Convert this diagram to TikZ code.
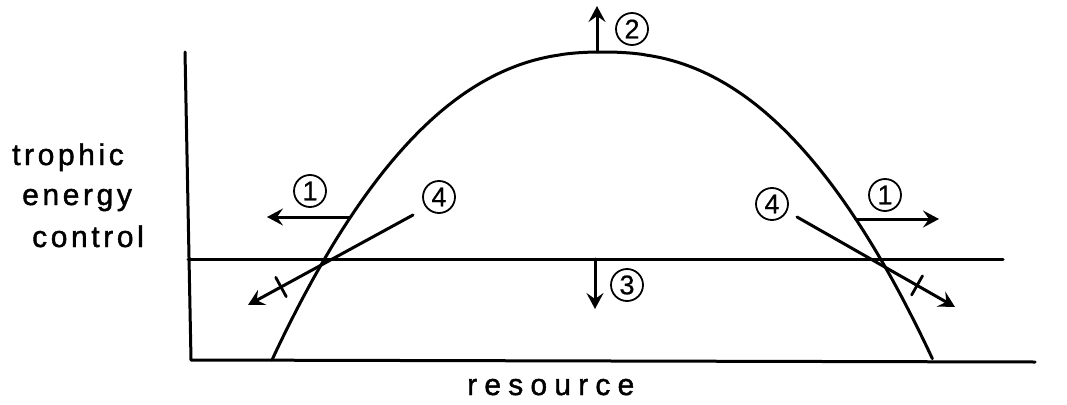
\documentclass[tikz,border=0pt]{standalone}
\usepackage{fontspec}
\setmainfont{Liberation Sans}
\newfontfamily\lab[LetterSpace=12,FakeBold=1.4]{Liberation Sans}
\newfontfamily\labwide[LetterSpace=24,FakeBold=1.4]{Liberation Sans}
\newfontfamily\digfont[FakeBold=0.6]{Liberation Sans}
\usetikzlibrary{arrows.meta}
\tikzset{
  ink/.style={line width=3pt, line cap=round, line join=round},
  arr/.style={ink, -{Stealth[length=16pt,width=17pt,inset=6pt]}},
  circnum/.style={circle, draw, line width=1.8pt, minimum size=32pt, inner sep=0pt,
    font=\fontsize{27}{27}\selectfont\digfont},
  lbl/.style={anchor=base west, inner sep=0pt, font=\fontsize{30}{36}\selectfont\lab},
  tick/.style={sloped, draw, line width=2.8pt, minimum width=0pt, minimum height=22pt, inner sep=0pt, rectangle}
}
\begin{document}
\begin{tikzpicture}[x=1pt, y=-1pt]
\useasboundingbox (0,0) rectangle (1067,404);
% axes
\coordinate (ytop) at (185,52);
\coordinate (orig) at (191,360);
\coordinate (xend) at (1035,362);
\draw[ink] (ytop) -- (orig) -- (xend);
% horizontal level line
\coordinate (hl) at (188,259);
\coordinate (hr) at (1003,259);
\draw[ink] (hl) -- (hr);
% hump curve
\draw[ink, domain=-1:1, samples=151, variable=\u]
  plot ({602.5+330.5*\u}, {360-308*(1-pow(max(abs(\u),0.0001),2.3))});
% labels
\node[lbl] (t1) at (12,165) {trophic};
\node[lbl] (t2) at (22,205) {energy};
\node[lbl] (t3) at (32,247) {control};
\node[lbl, font=\fontsize{30}{36}\selectfont\labwide] (res) at (467,395) {resource};
% circled numbers
\node[circnum] (n1l) at (310,191) {1};
\node[circnum] (n1r) at (885,195) {1};
\node[circnum] (n2) at (632,29) {2};
\node[circnum] (n3) at (627,285) {3};
\node[circnum] (n4l) at (439,197) {4};
\node[circnum] (n4r) at (772,204) {4};
% arrows 1
\coordinate (c1l) at (349.5,217);
\coordinate (e1l) at (267,217);
\draw[arr] (c1l) -- (e1l);
\coordinate (c1r) at (855.5,219);
\coordinate (e1r) at (939,219);
\draw[arr] (c1r) -- (e1r);
% arrow 2
\coordinate (c2) at (597,52);
\coordinate (e2) at (597,6);
\draw[arr] (c2) -- (e2);
% arrow 3
\coordinate (c3) at (595,259);
\coordinate (e3) at (595,309);
\draw[arr] (c3) -- (e3);
% arrows 4
\coordinate (s4l) at (413,215);
\coordinate (e4l) at (248,305);
\draw[arr] (s4l) -- (e4l) node[tick, pos=0.8] (k4l) {};
\coordinate (s4r) at (797,217);
\coordinate (e4r) at (955,307);
\draw[arr] (s4r) -- (e4r) node[tick, pos=0.76] (k4r) {};
\end{tikzpicture}
\end{document}
